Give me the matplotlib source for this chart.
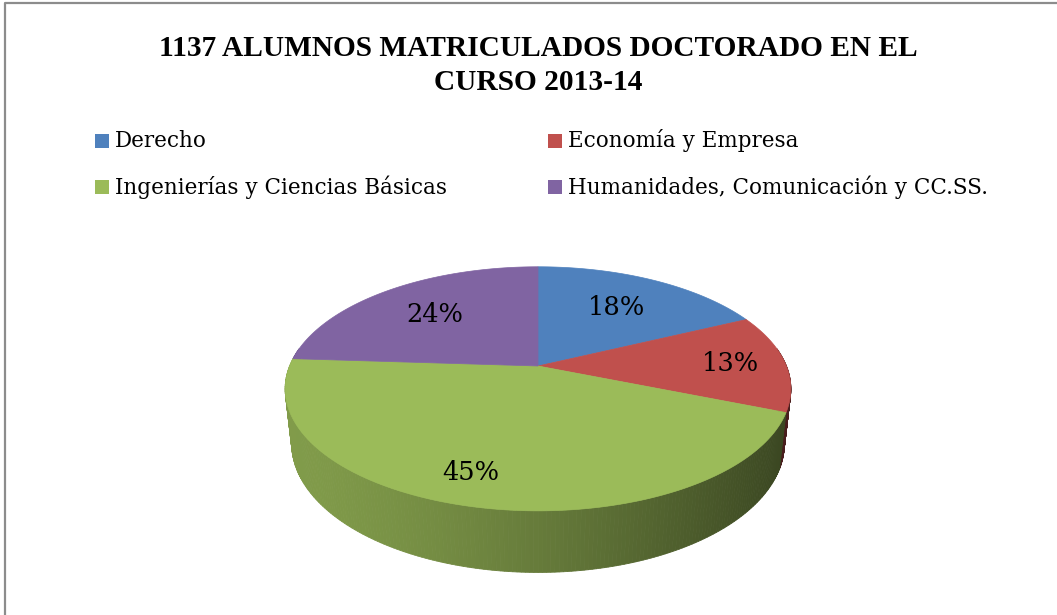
import numpy as np
import matplotlib
matplotlib.use("Agg")
import matplotlib.pyplot as plt
from matplotlib.patches import Polygon, Rectangle
from matplotlib.colors import to_rgb

# ---- data ----
title_lines = ["1137 ALUMNOS MATRICULADOS DOCTORADO EN EL", "CURSO 2013-14"]
categories = ["Derecho", "Economía y Empresa",
              "Ingenierías y Ciencias Básicas", "Humanidades, Comunicación y CC.SS."]
percentages = [18, 13, 45, 24]
colors = ["#4F81BD", "#C0504D", "#9BBB59", "#8064A2"]

# ---- style / layout ----
W, H = 1057, 615
fig = plt.figure(figsize=(W / 100, H / 100), dpi=100)
ax = fig.add_axes([0, 0, 1, 1])
ax.set_xlim(0, W)
ax.set_ylim(H, 0)
ax.axis("off")

# frame (left and top border)
ax.plot([5, 5, W], [H, 3, 3], color="#8c8c8c", lw=1.6, solid_capstyle="butt")

# perspective projection of a unit disk
cx, cy = 538.0, 366.0
f, D = 1170.0, 4.71
phi = np.deg2rad(28.3)
s, c = np.sin(phi), np.cos(phi)
h = 0.253


def proj(x, y, z):
    Y = y * s + z * c
    Z = D + y * c - z * s
    return cx + f * x / Z, cy - f * Y / Z


vals = np.array(percentages, dtype=float)
fracs = vals / vals.sum()
start = 90.0
bounds = []
a = start
for fr in fracs:
    bounds.append((a, a - fr * 360.0))
    a -= fr * 360.0

# side walls
segs = []
for (a0, a1), col in zip(bounds, colors):
    th = np.linspace(np.deg2rad(a0), np.deg2rad(a1), 200)
    for t0, t1 in zip(th[:-1], th[1:]):
        segs.append((t0, t1, col))
segs.sort(key=lambda q: -np.sin(0.5 * (q[0] + q[1])))
xl, xr = proj(-1, 0, 0)[0], proj(1, 0, 0)[0]
for t0, t1, col in segs:
    if np.sin(0.5 * (t0 + t1)) > 0.15:
        continue
    p = [proj(np.cos(t0), np.sin(t0), 0), proj(np.cos(t1), np.sin(t1), 0),
         proj(np.cos(t1), np.sin(t1), -h), proj(np.cos(t0), np.sin(t0), -h)]
    xm = 0.5 * (p[0][0] + p[1][0])
    tt = np.clip((xm - xl) / (xr - xl), 0, 1)
    fac = 0.83 - 0.45 * tt ** 1.4
    rgb = np.array(to_rgb(col)) * fac
    ax.add_patch(Polygon(p, closed=True, facecolor=rgb, edgecolor=rgb, lw=0.6))

# top faces
for (a0, a1), col in zip(bounds, colors):
    th = np.deg2rad(np.linspace(a0, a1, 300))
    pts = [proj(0, 0, 0)] + [proj(np.cos(t), np.sin(t), 0) for t in th]
    ax.add_patch(Polygon(pts, closed=True, facecolor=col, edgecolor=col, lw=0.5))

# data labels
label_r = [0.65, 0.78, 0.81, 0.66]
label_da = [0, 0, -4, 0]
for (a0, a1), pct, r, da in zip(bounds, percentages, label_r, label_da):
    am = np.deg2rad(0.5 * (a0 + a1) + da)
    lx, ly = proj(r * np.cos(am), r * np.sin(am), 0)
    ax.text(lx, ly, f"{pct}%", fontsize=18.5, family="DejaVu Serif",
            ha="center", va="center", color="black")

# title, fitted to width
fig.canvas.draw()
ren = fig.canvas.get_renderer()
t1 = ax.text(538, 48, title_lines[0], fontsize=20, family="Liberation Serif",
             weight="bold", ha="center", va="center")
wpx = t1.get_window_extent(ren).width
fs = 20 * 758.0 / wpx
t1.set_fontsize(fs)
ax.text(538, 83, title_lines[1], fontsize=fs, family="Liberation Serif",
        weight="bold", ha="center", va="center")

# legend
leg_pos = [(95, 141), (548, 141), (95, 187), (548, 187)]
for (lx, ly), name, col in zip(leg_pos, categories, colors):
    ax.add_patch(Rectangle((lx, ly - 7), 14, 14, facecolor=col, edgecolor="none"))
    ax.text(lx + 20, ly, name, fontsize=15.5, family="DejaVu Serif",
            ha="left", va="center", color="black")

fig.savefig("out.png", dpi=100)
